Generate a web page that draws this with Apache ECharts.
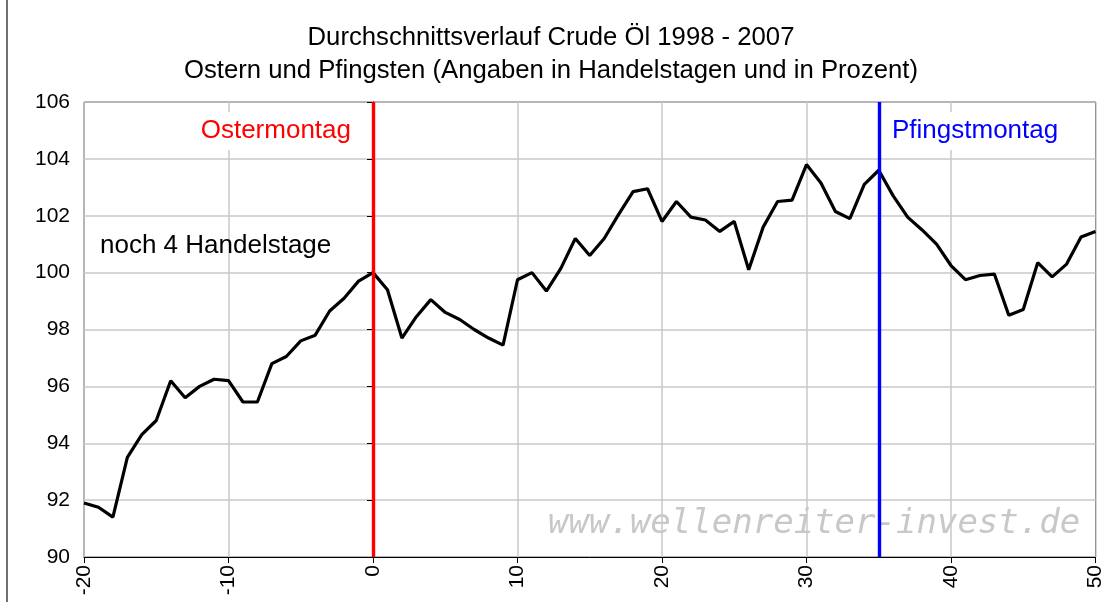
<!DOCTYPE html>
<html>
<head>
<meta charset="utf-8">
<title>Crude Öl Ostern Pfingsten</title>
<script src="https://cdn.jsdelivr.net/npm/echarts@6/dist/echarts.min.js"></script>
<style>
  html, body { margin: 0; padding: 0; background: #fff; }
  #chart { width: 1102px; height: 602px; }
</style>
</head>
<body>
<div id="chart"></div>
<script>
// Handelstage relativ zu Ostermontag
var days = [];
for (var d = -20; d <= 50; d++) days.push(d);

// Durchschnittsverlauf in Prozent (Ostermontag = 100)
var avgValues = [
  91.9, 91.75, 91.4, 93.5, 94.3, 94.8, 96.2, 95.6, 96.0, 96.25,
  96.2, 95.45, 95.45, 96.8, 97.05, 97.6, 97.8, 98.65, 99.1, 99.7,
  100.0, 99.4, 97.7, 98.45, 99.05, 98.6, 98.35, 98.0, 97.7, 97.45,
  99.75, 100.0, 99.35, 100.15, 101.2, 100.6, 101.2, 102.05, 102.85, 102.95,
  101.8, 102.5, 101.95, 101.85, 101.45, 101.8, 100.1, 101.6, 102.5, 102.55,
  103.8, 103.15, 102.15, 101.9, 103.1, 103.6, 102.7, 101.95, 101.5, 101.0,
  100.25, 99.75, 99.9, 99.95, 98.5, 98.7, 100.35, 99.85, 100.3, 101.25,
  101.45
];

var titleLines = [
  'Durchschnittsverlauf Crude Öl 1998 - 2007',
  'Ostern und Pfingsten (Angaben in Handelstagen und in Prozent)'
];
var holidayNames = ['Ostermontag', 'Pfingstmontag'];
var holidayDays = [0, 35];
var noteText = 'noch 4 Handelstage';
var watermark = 'www.wellenreiter-invest.de';

var xRange = [-20, 50];
var yRange = [90, 106];

var font = '"Liberation Sans", Arial, sans-serif';

var chart = echarts.init(document.getElementById('chart'));

var lineData = days.map(function (d, i) { return [d, avgValues[i]]; });

var option = {
  backgroundColor: '#fff',
  animation: false,
  title: {
    text: titleLines.join('\n'),
    left: 'center',
    top: 16,
    textStyle: {
      fontFamily: font,
      fontSize: 25.7,
      fontWeight: 'normal',
      color: '#000',
      lineHeight: 33
    }
  },
  grid: {
    left: 84,
    top: 102,
    right: 6.5,
    bottom: 45,
    containLabel: false,
    outerBoundsMode: 'none',
    show: true,
    borderColor: '#000',
    borderWidth: 1
  },
  xAxis: {
    type: 'value',
    min: xRange[0],
    max: xRange[1],
    interval: 10,
    axisLine: { lineStyle: { color: '#000', width: 1 } },
    axisTick: { show: true, length: 6, lineStyle: { color: '#000' } },
    axisLabel: {
      rotate: 90,
      margin: 8,
      fontFamily: font,
      fontSize: 21,
      color: '#000'
    },
    splitLine: { show: true, lineStyle: { color: '#c8c8c8', width: 1.5 } }
  },
  yAxis: {
    type: 'value',
    min: yRange[0],
    max: yRange[1],
    interval: 2,
    axisLine: { show: true, lineStyle: { color: '#000', width: 1 } },
    axisTick: { show: true, length: 6, lineStyle: { color: '#000' } },
    axisLabel: {
      margin: 14,
      fontFamily: font,
      fontSize: 21,
      color: '#000'
    },
    splitLine: { show: true, lineStyle: { color: '#c8c8c8', width: 1.5 } }
  },
  series: [
    {
      name: 'Crude Öl',
      type: 'line',
      data: lineData,
      showSymbol: false,
      lineStyle: { color: '#000', width: 3.2 },
      z: 3,
      markLine: {
        silent: true,
        symbol: 'none',
        label: { show: false },
        data: [
          { xAxis: holidayDays[0], lineStyle: { color: '#ff0000', width: 3.4, type: 'solid' } },
          { xAxis: holidayDays[1], lineStyle: { color: '#0000ff', width: 3.4, type: 'solid' } }
        ]
      }
    }
  ],
  graphic: [
    // linker Rahmen
    {
      type: 'line',
      shape: { x1: 7, y1: 0, x2: 7, y2: 602 },
      style: { stroke: '#404040', lineWidth: 1.5 }
    },
    {
      type: 'text',
      x: 353, y: 131,
      style: {
        text: holidayNames[0],
        align: 'right', verticalAlign: 'middle',
        font: '26px ' + font,
        fill: '#ff0000',
        backgroundColor: '#fff',
        padding: [6, 2]
      },
      z: 10
    },
    {
      type: 'text',
      x: 890, y: 131,
      style: {
        text: holidayNames[1],
        align: 'left', verticalAlign: 'middle',
        font: '26px ' + font,
        fill: '#0000ff',
        backgroundColor: '#fff',
        padding: [6, 2]
      },
      z: 10
    },
    {
      type: 'text',
      x: 100, y: 246,
      style: {
        text: noteText,
        align: 'left', verticalAlign: 'middle',
        font: '26px ' + font,
        fill: '#000'
      },
      z: 10
    },
    {
      type: 'text',
      x: 548, y: 524,
      style: {
        text: watermark,
        align: 'left', verticalAlign: 'middle',
        font: 'italic 34px "DejaVu Sans Mono", monospace',
        fill: '#c8c8c8'
      },
      z: 1
    }
  ]
};

chart.setOption(option);
</script>
</body>
</html>
